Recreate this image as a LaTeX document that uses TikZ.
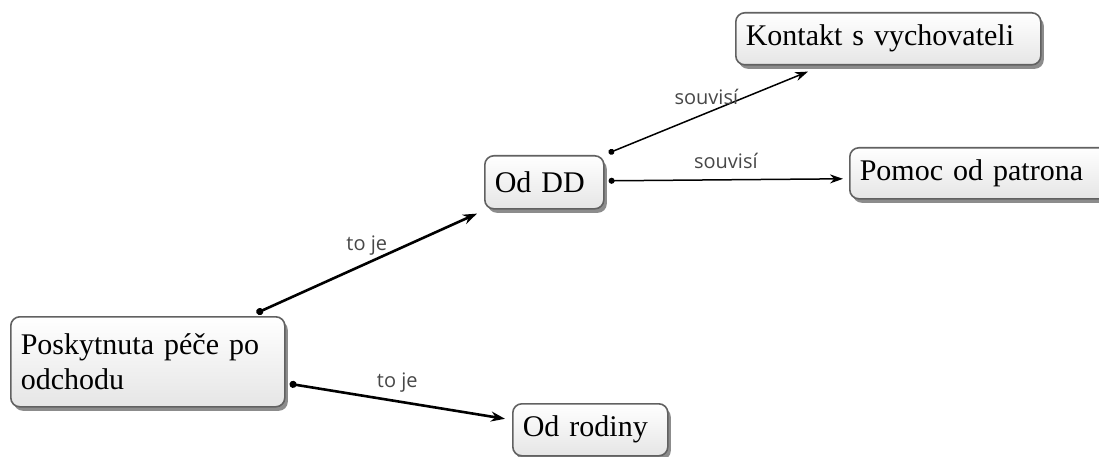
\documentclass[tikz,border=0pt]{standalone}
\usepackage{fontspec}
\setmainfont{Liberation Serif}
\newfontfamily\lblfont{Open Sans}
\usetikzlibrary{arrows.meta,shadows}

\begin{document}
\begin{tikzpicture}[x=1pt, y=-1pt,
  box/.style = {draw=black!62, line width=1.6pt, rounded corners=9pt,
    top color=white, bottom color=black!10, anchor=north west,
    inner xsep=10pt, inner ysep=0pt, align=left,
    font=\fontsize{30}{35}\selectfont,
    drop shadow={shadow xshift=3pt, shadow yshift=-4pt, opacity=0.6, fill=black!75}},
  rel/.style = {line width=1.5pt, {Circle[length=6pt]}-{Stealth[length=13pt,width=9pt]}},
  strong/.style = {rel, line width=2.6pt, {Circle[length=7pt]}-{Stealth[length=14pt,width=10pt]}},
  lbl/.style = {font=\lblfont\fontsize{20}{20}\selectfont, text=black!72, inner sep=0pt}]
\useasboundingbox (0,0) rectangle (1099,457);

\node[box, text width=254pt, minimum height=90pt] (pos) at (10,316) {Poskytnuta péče po\\odchodu};
\node[box, text width=99pt, minimum height=53pt] (dd) at (484,155) {Od DD};
\node[box, text width=285pt, minimum height=52pt] (kon) at (735,12) {Kontakt s vychovateli};
\node[box, text width=245pt, minimum height=51pt] (pom) at (849,147) {Pomoc od patrona};
\node[box, text width=135pt, minimum height=52pt] (rod) at (512,403) {Od rodiny};

\draw[strong] ([xshift=-29pt,yshift=3pt]pos.north east) -- ([xshift=-7pt,yshift=-4pt]dd.south west)
  node[lbl, midway, above=7pt] (l1) {to je};
\draw[strong] ([xshift=4pt,yshift=-22pt]pos.east) -- ([xshift=-7pt,yshift=11pt]rod.west)
  node[lbl, midway, above=8pt] (l2) {to je};
\draw[rel] ([xshift=4pt,yshift=2pt]dd.north east) -- ([xshift=73pt,yshift=-6pt]kon.south west)
  node[lbl, pos=0.49, above=8pt] (l3) {souvisí};
\draw[rel] ([xshift=4pt,yshift=1.5pt]dd.east) -- ([xshift=-6pt,yshift=-5.5pt]pom.west)
  node[lbl, midway, above=10pt] (l4) {souvisí};
\end{tikzpicture}
\end{document}
